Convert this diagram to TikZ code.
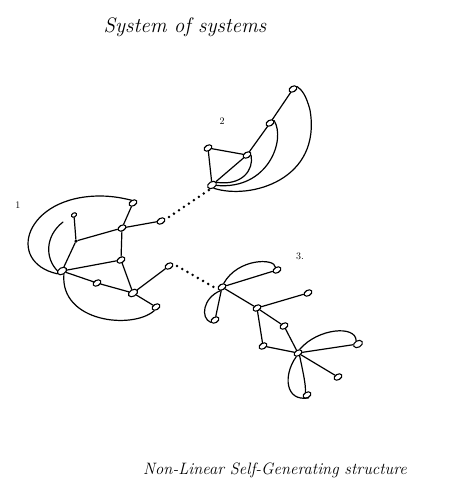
\documentclass[tikz,border=0pt]{standalone}
\usetikzlibrary{shapes.geometric}
\begin{document}
\begin{tikzpicture}[x=1pt,y=-1pt,
  nd/.style={draw,ellipse,fill=white,inner sep=0pt,minimum width=8.5pt,minimum height=5.5pt,rotate=30,line width=1.1pt},
  dt/.style={circle,fill=black,inner sep=0pt,minimum size=3.5pt},
  ln/.style={line width=1.2pt,line cap=round},
  dots/.style={line width=2.8pt,line cap=round,dash pattern=on 0pt off 6pt},
  lbl/.style={font=\normalsize}]
\useasboundingbox (0,0) rectangle (465,493);
\node[font=\fontsize{21}{23}\selectfont\itshape] (t1) at (185,27) {System of systems};
\node[font=\fontsize{16.5}{18}\selectfont\itshape] (t2) at (275,470) {Non-Linear Self-Generating structure};
% cluster 1
\node[lbl] (l1) at (18,205) {1};
\node[nd] (A) at (133,203) {};
\node[nd] (B) at (122,228) {};
\node[nd] (C) at (161,221) {};
\node[nd,minimum width=5.5pt,minimum height=4pt] (D) at (74,215) {};
\node[dt] (E) at (76,241) {};
\node[nd,minimum width=10pt,minimum height=6.5pt] (F) at (62,271) {};
\node[nd] (G) at (121,260) {};
\node[nd] (H) at (97,283) {};
\node[nd,minimum width=10pt,minimum height=6.5pt] (I) at (133,293) {};
\node[nd] (J) at (169,266) {};
\node[nd] (K) at (156,307) {};
\draw[ln] (A)--(B) (B)--(C) (B)--(E) (D)--(E) (E)--(F) (B)--(G) (F)--(G) (F)--(H) (H)--(I) (G)--(I) (I)--(J) (I)--(K);
\draw[ln] (F.west) .. controls (5,262) and (25,196) .. (100,196) .. controls (115,196) and (126,199) .. (A.north);
\coordinate (d1) at (63,222);
\draw[ln] (d1) .. controls (45,236) and (45,258) .. (F.north west);
\draw[ln] (F.south) .. controls (60,322) and (132,330) .. (K.south west);
% cluster 2
\node[lbl] (l2) at (222,121) {2};
\node[nd] (P) at (208,148) {};
\node[nd] (Q) at (247,155) {};
\node[nd,minimum width=9.5pt,minimum height=6.5pt] (R) at (212,185) {};
\node[nd] (S) at (270,123) {};
\node[nd] (T) at (293,89) {};
\draw[ln] (P)--(Q) (P)--(R) (R)--(Q) (Q)--(S) (S)--(T);
\draw[ln] (R.east) .. controls (242,186) and (254,170) .. (Q.south east);
\draw[ln] (R.south east) .. controls (268,190) and (286,140) .. (S.east);
\draw[ln] (R.south) .. controls (250,200) and (322,180) .. (310,110) .. controls (306,95) and (302,90) .. (T.east);
\coordinate (c1) at (169,217);
\draw[dots] (c1) -- (R.south west);
% cluster 3
\node[lbl] (l3) at (300,256) {3.};
\node[nd] (U) at (222,287) {};
\node[nd] (V) at (277,270) {};
\node[nd] (W) at (215,320) {};
\node[nd] (X) at (257,308) {};
\node[nd] (Y) at (308,293) {};
\node[nd] (Z) at (284,326) {};
\node[nd] (AA) at (263,346) {};
\node[nd] (BB) at (298,353) {};
\node[nd,minimum width=9.5pt,minimum height=6.5pt] (CC) at (358,344) {};
\node[nd] (DD) at (338,377) {};
\node[nd] (EE) at (307,395) {};
\draw[ln] (U)--(V) (U)--(X) (X)--(Y) (X)--(Z) (Z)--(BB) (X)--(AA) (AA)--(BB) (BB)--(CC) (BB)--(DD) (U)--(W);
\draw[ln] (U.north east) .. controls (238,258) and (275,258) .. (V.north);
\draw[ln] (U.south west) .. controls (203,298) and (200,318) .. (W.west);
\draw[ln] (BB.north east) .. controls (318,328) and (356,325) .. (CC.north);
\draw[ln] (BB.south west) .. controls (283,375) and (285,402) .. (EE.south);
\draw[ln] (BB.south) .. controls (303,372) and (306,385) .. (EE.north);
\coordinate (j1) at (177,266);
\draw[dots] (j1) -- (U.west);
\end{tikzpicture}
\end{document}
